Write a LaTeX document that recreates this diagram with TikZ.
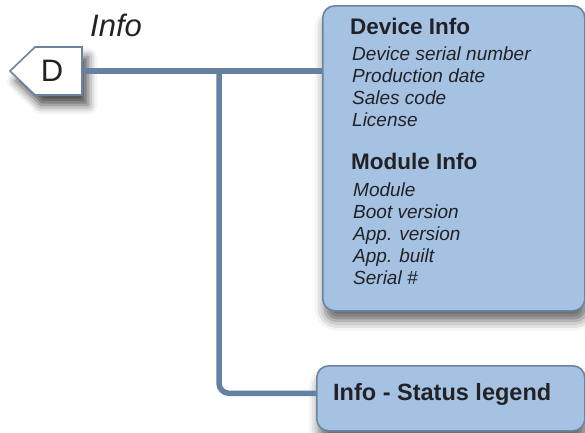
\documentclass[tikz,border=0pt]{standalone}
\usepackage{fontspec}
\setmainfont{Liberation Sans}
\usetikzlibrary{shadows.blur,positioning}
\definecolor{boxfill}{RGB}{166,194,226}
\definecolor{boxedge}{RGB}{107,132,162}
\definecolor{wirecol}{RGB}{101,128,160}
\definecolor{inkcol}{RGB}{34,34,38}

\begin{document}
\begin{tikzpicture}[x=1pt,y=-1pt,
  card/.style={draw=boxedge,line width=1.6pt,fill=boxfill,rounded corners=12pt,
    blur shadow={shadow xshift=2pt,shadow yshift=-10pt,shadow blur radius=10pt,shadow opacity=60}},
  tagshape/.style={draw=boxedge,line width=1.6pt,fill=white,line join=miter,
    blur shadow={shadow xshift=6pt,shadow yshift=-10pt,shadow blur radius=9pt,shadow opacity=70}},
  wire/.style={draw=wirecol,line width=5.5pt},
  head/.style={anchor=base west,inner sep=0pt,text=inkcol,font=\fontsize{22.5}{22.5}\selectfont\bfseries},
  item/.style={anchor=base west,inner sep=0pt,text=inkcol,font=\fontsize{19}{19}\selectfont\itshape}]
  \useasboundingbox (0,0) rectangle (585,432);

  % tag and title
  \coordinate (dpos) at (52,71);
  \path[tagshape] (dpos) ++(-17,-24) -- ++(47,0) -- ++(0,48) -- ++(-47,0) -- ++(-25,-24) -- cycle;
  \node[inner sep=0pt,text=inkcol,font=\fontsize{31}{31}\selectfont] (d) at (dpos) {D};
  \coordinate (dout) at (82,71);
  \node[anchor=base west,inner sep=0pt,text=inkcol,font=\fontsize{31}{31}\selectfont\itshape]
    (title) at (90,36) {Info};

  % cards
  \node[card,minimum width=262pt,minimum height=305pt,anchor=north west] (dev) at (322,5) {};
  \node[card,minimum width=268pt,minimum height=65pt,anchor=north west] (stat) at (316,365) {};

  % wires
  \coordinate (split) at (219,71);
  \draw[wire] (dout) -- (dout -| dev.west);
  \draw[wire,rounded corners=10pt] (split) |- ([yshift=5pt]stat.west);

  % device box text
  \node[head] (devhead) at (350,34) {Device Info};
  \foreach \txt [count=\i] in {Device serial number,Production date,Sales code,License}
    \node[item] (dv\i) at (352,38+22*\i) {\txt};
  \node[head] (modhead) at (351,169) {Module Info};
  \foreach \txt [count=\i] in {Module,Boot version,App. version,App. built,Serial \#}
    \node[item] (md\i) at (353,174+22*\i) {\txt};

  % status box text
  \node[head,font=\fontsize{23.5}{23.5}\selectfont\bfseries] (stattxt) at (333,400) {Info - Status legend};
\end{tikzpicture}
\end{document}
